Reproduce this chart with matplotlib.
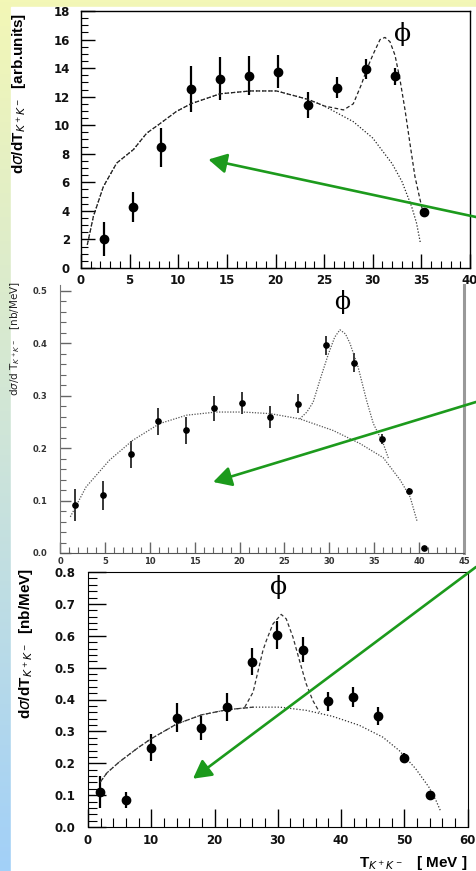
import numpy as np
import matplotlib
matplotlib.use("Agg")
import matplotlib.pyplot as plt
from matplotlib.ticker import MultipleLocator
from matplotlib.colors import LinearSegmentedColormap
from matplotlib.patches import Rectangle

W, H = 476, 871

# --- panel 1 : arb. units, T up to 40 MeV
t1 = [2.33, 5.3, 8.26, 11.35, 14.3, 17.27, 20.3, 23.3, 26.3, 29.3, 32.3, 35.27]
s1 = [2.03, 4.24, 8.44, 12.54, 13.26, 13.47, 13.75, 11.42, 12.63, 13.96, 13.43, 3.89]
e1 = [1.2, 1.05, 1.4, 1.6, 1.5, 1.35, 1.15, 0.9, 0.75, 0.7, 0.6, 0.1]
bg1_x = [0.65, 1.27, 2.3, 3.67, 5.4, 6.75, 8.1, 9.8, 11.3, 14.3, 17.4, 20.1, 23.4, 25.0,
         28.0, 30.0, 32.0, 33.0, 34.0, 34.5, 34.9]
bg1_y = [1.63, 3.6, 5.7, 7.35, 8.3, 9.44, 10.1, 10.96, 11.5, 12.2, 12.4, 12.4, 11.8, 11.35,
         10.25, 9.1, 7.3, 6.06, 4.3, 3.15, 1.75]
tot1_x = [0.65, 1.27, 2.3, 3.67, 5.4, 6.75, 8.1, 9.8, 11.3, 14.3, 17.4, 20.1, 23.4, 25.0,
          27.0, 28.0, 28.86, 29.37, 30.06, 30.75, 31.26, 31.77, 32.29, 32.8, 33.32, 33.83,
          34.34, 34.86, 35.27]
tot1_y = [1.63, 3.6, 5.7, 7.35, 8.3, 9.44, 10.1, 10.96, 11.5, 12.2, 12.4, 12.4, 11.8, 11.35,
          11.07, 11.5, 12.9, 13.9, 15.0, 16.0, 16.15, 15.85, 14.9, 13.2, 11.07, 8.7,
          6.4, 4.8, 3.6]

# --- panel 2 : nb/MeV, T up to 45 MeV
t2 = [1.67, 4.76, 7.88, 10.96, 14.08, 17.2, 20.29, 23.4, 26.5, 29.62, 32.7, 35.82, 38.9, 40.5]
s2 = [0.092, 0.110, 0.188, 0.251, 0.234, 0.276, 0.287, 0.260, 0.285, 0.396, 0.363, 0.218, 0.118, 0.0095]
e2 = [0.03, 0.027, 0.025, 0.026, 0.026, 0.024, 0.021, 0.021, 0.018, 0.018, 0.018, 0.01, 0.006, 0.002]
bg2_x = [1.15, 2.9, 5.5, 8.1, 11.1, 14.1, 17.4, 20.4, 23.4, 26.7, 30.4, 33.4, 36.0, 37.9, 39.0, 39.8]
bg2_y = [0.069, 0.126, 0.177, 0.215, 0.247, 0.263, 0.269, 0.269, 0.266, 0.256, 0.234, 0.209,
         0.182, 0.139, 0.107, 0.059]
pk2_x = [26.7, 27.5, 28.2, 28.95, 29.9, 30.6, 31.18, 31.8, 32.3, 33.2, 34.15, 34.9, 36.0, 36.6]
pk2_y = [0.256, 0.269, 0.288, 0.33, 0.38, 0.412, 0.426, 0.418, 0.40, 0.355, 0.291, 0.247, 0.209, 0.18]

# --- panel 3 : nb/MeV, T up to 60 MeV
t3 = [1.84, 6.04, 9.97, 14.07, 17.9, 22.05, 25.98, 29.9, 33.96, 37.95, 41.94, 45.9, 49.97, 54.0]
s3 = [0.111, 0.086, 0.249, 0.343, 0.311, 0.376, 0.519, 0.602, 0.556, 0.394, 0.408, 0.347, 0.216, 0.101]
e3 = [0.05, 0.025, 0.042, 0.045, 0.038, 0.043, 0.042, 0.043, 0.039, 0.031, 0.03, 0.028, 0.016, 0.006]
bg3_x = [1.94, 3.0, 5.0, 8.0, 10.0, 14.0, 18.0, 22.0, 26.1, 30.3, 34.5, 38.7, 42.9, 46.6,
         49.2, 51.8, 53.9, 55.0, 55.7]
bg3_y = [0.141, 0.17, 0.205, 0.25, 0.277, 0.323, 0.352, 0.368, 0.376, 0.376, 0.366, 0.347,
         0.319, 0.282, 0.24, 0.183, 0.125, 0.084, 0.052]
pk3_x = [24.78, 26.1, 27.66, 28.2, 29.24, 30.55, 31.34, 32.4, 33.44, 34.5, 35.54, 36.6]
pk3_y = [0.376, 0.423, 0.554, 0.585, 0.637, 0.667, 0.653, 0.596, 0.522, 0.449, 0.397, 0.36]

green = "#1c9a1c"
fig = plt.figure(figsize=(W / 100, H / 100), dpi=100)

# slide background: gradient strip on the left and top
bgax = fig.add_axes([0, 0, 1, 1], zorder=-10)
bgax.axis("off")
cmap = LinearSegmentedColormap.from_list("slide", ["#a2d0f8", "#cfe5d8", "#f3f7b6"])
bgax.imshow(np.linspace(0, 1, 256).reshape(-1, 1), aspect="auto", origin="lower",
            extent=[0, 1, 0, 1], cmap=cmap)
bgax.add_patch(Rectangle((11 / W, 0), 1 - 11 / W, 1 - 7 / H, color="white"))
bgax.set_xlim(0, 1)
bgax.set_ylim(0, 1)


def box(l, r, t, b):
    return [l / W, 1 - b / H, (r - l) / W, (b - t) / H]


def style(ax, col, lsize, major_len, width=1.0):
    ax.tick_params(which="both", direction="in", colors=col, labelcolor="#111",
                   top=False, right=False)
    ax.tick_params(which="major", length=major_len, width=width, labelsize=lsize)
    ax.tick_params(which="minor", length=major_len * 0.5, width=width * 0.8)
    for lab in ax.get_xticklabels() + ax.get_yticklabels():
        lab.set_fontweight("bold")
        lab.set_family("DejaVu Sans")


# ---------------- panel 1
ax1 = fig.add_axes(box(81, 470, 11, 268))
ax1.errorbar(t1, s1, yerr=e1, fmt="o", color="black", ms=6, elinewidth=1.6, capsize=0)
ax1.plot(bg1_x, bg1_y, color="#222", lw=0.9, ls=(0, (1, 1.5)))
ax1.plot(tot1_x, tot1_y, color="#222", lw=0.9, ls=(0, (3, 2)))
ax1.set_xlim(0, 40)
ax1.set_ylim(0, 18)
ax1.xaxis.set_major_locator(MultipleLocator(5))
ax1.xaxis.set_minor_locator(MultipleLocator(1))
ax1.yaxis.set_major_locator(MultipleLocator(2))
ax1.yaxis.set_minor_locator(MultipleLocator(0.5))
style(ax1, "black", 8.5, 10)
ax1.tick_params(axis="y", pad=8)
ax1.tick_params(axis="x", pad=4)
for s in ax1.spines.values():
    s.set_linewidth(1.0)
ax1.text(33.1, 16.4, "ϕ", family="DejaVu Serif", fontsize=18, ha="center", va="center")
ax1.set_ylabel(r"d$\sigma$/dT$_{K^+K^-}$  [arb.units]", fontsize=11, fontweight="bold",
               family="Liberation Sans")
ax1.yaxis.set_label_coords(-0.136, 0.68)

# ---------------- panel 2
ax2 = fig.add_axes(box(60, 464, 285, 553))
ax2.errorbar(t2, s2, yerr=e2, fmt="o", color="black", ms=3.8, elinewidth=1.1, capsize=0)
ax2.plot(bg2_x, bg2_y, color="#555", lw=0.9, ls=(0, (1, 1.2)))
ax2.plot(pk2_x, pk2_y, color="#555", lw=0.9, ls=(0, (1, 1.2)))
ax2.set_xlim(0, 45)
ax2.set_ylim(0, (553 - 285) / (553 - 291) * 0.5)
ax2.xaxis.set_major_locator(MultipleLocator(5))
ax2.xaxis.set_minor_locator(MultipleLocator(1))
ax2.yaxis.set_major_locator(MultipleLocator(0.1))
ax2.yaxis.set_minor_locator(MultipleLocator(0.02))
style(ax2, "#666", 6, 8)
for lab in ax2.get_xticklabels() + ax2.get_yticklabels():
    lab.set_color("#333")
ax2.tick_params(axis="y", pad=9)
ax2.tick_params(axis="x", pad=3)
ax2.spines["top"].set_visible(False)
ax2.spines["left"].set_color("#777")
ax2.spines["bottom"].set_color("#555")
ax2.spines["right"].set_color("#999")
ax2.spines["right"].set_linewidth(2.2)
ax2.text(31.4, 0.479, "ϕ", family="DejaVu Serif", fontsize=17, ha="center", va="center")
ax2.set_ylabel(r"d$\sigma$/d T$_{K^+K^-}$   [nb/MeV]", fontsize=7.5, family="DejaVu Sans",
               color="#222")
ax2.yaxis.set_label_coords(-0.095, 0.8)

# ---------------- panel 3
ax3 = fig.add_axes(box(88, 467.5, 572, 827))
ax3.errorbar(t3, s3, yerr=e3, fmt="o", color="black", ms=6, elinewidth=1.6, capsize=0)
ax3.plot(bg3_x, bg3_y, color="#333", lw=0.9, ls=(0, (1, 1.5)))
ax3.plot(bg3_x[:9], bg3_y[:9], color="#333", lw=0.9, ls=(0, (4, 2)))
ax3.plot(pk3_x, pk3_y, color="#333", lw=0.9, ls=(0, (3, 2)))
ax3.set_xlim(0, 60)
ax3.set_ylim(0, 0.8)
ax3.xaxis.set_major_locator(MultipleLocator(10))
ax3.xaxis.set_minor_locator(MultipleLocator(2))
ax3.yaxis.set_major_locator(MultipleLocator(0.1))
ax3.yaxis.set_minor_locator(MultipleLocator(0.02))
style(ax3, "black", 8.5, 13)
ax3.tick_params(axis="y", pad=9)
ax3.tick_params(axis="x", pad=5)
ax3.text(30.2, 0.752, "ϕ", family="DejaVu Serif", fontsize=18, ha="center", va="center")
ax3.set_ylabel(r"d$\sigma$/dT$_{K^+K^-}$  [nb/MeV]", fontsize=11, fontweight="bold",
               family="Liberation Sans")
ax3.yaxis.set_label_coords(-0.14, 0.72)
ax3.set_xlabel(r"T$_{K^+K^-}$   [ MeV ]", fontsize=11, fontweight="bold",
               family="Liberation Sans", ha="right", va="top")
ax3.xaxis.set_label_coords(1.0, -0.105)

# ---------------- green arrows
arrow = dict(arrowstyle="-|>,head_length=0.55,head_width=0.3", color=green, lw=1.9,
             mutation_scale=20, shrinkA=0, shrinkB=0)
ax1.annotate("", xy=(13.1, 7.6), xytext=(476, H - 217), textcoords="figure pixels",
             arrowprops=arrow, annotation_clip=False, zorder=20)
ax2.annotate("", xy=(17.06, 0.1355), xytext=(476, H - 402), textcoords="figure pixels",
             arrowprops=arrow, annotation_clip=False, zorder=20)
ax3.annotate("", xy=(16.6, 0.1515), xytext=(476, H - 567), textcoords="figure pixels",
             arrowprops=arrow, annotation_clip=False, zorder=20)

fig.savefig("out.png", dpi=100)
